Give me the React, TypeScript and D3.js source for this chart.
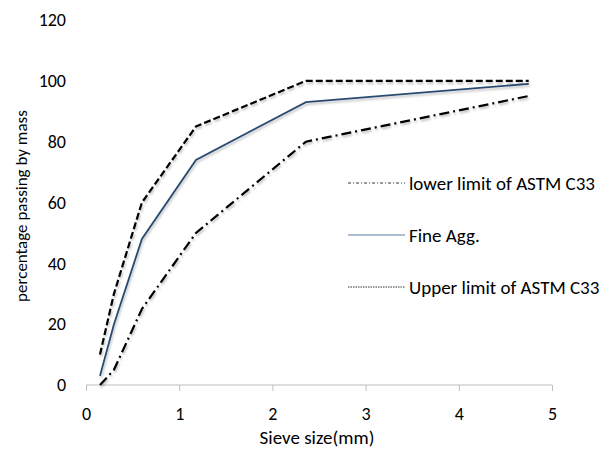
import React, { useEffect, useRef } from 'react';
import * as d3 from 'd3';

const sieveSizes = [0.15, 0.3, 0.6, 1.18, 2.36, 4.75];
const lowerLimit = [0, 5, 25, 50, 80, 95];
const fineAgg = [3, 20, 48, 74, 93, 99];
const upperLimit = [10, 30, 60, 85, 100, 100];
const xTicks = [0, 1, 2, 3, 4, 5];
const yTicks = [0, 20, 40, 60, 80, 100, 120];

const series = [
  { name: 'lower limit of ASTM C33', values: lowerLimit, color: '#000', dash: '10,4,2,4', legendDash: '3,2,1,2' },
  { name: 'Fine Agg.', values: fineAgg, color: '#2a4a72', dash: null, legendDash: null },
  { name: 'Upper limit of ASTM C33', values: upperLimit, color: '#000', dash: '7,3', legendDash: '1.5,1' },
];

const W = 599;
const H = 453;
const margin = { top: 20, right: 47, bottom: 68, left: 86 };

export default function App() {
  const ref = useRef<SVGSVGElement>(null);

  useEffect(() => {
    if (!ref.current) return;
    const root = d3.select(ref.current);
    root.selectAll('*').remove();

    const innerW = W - margin.left - margin.right;
    const innerH = H - margin.top - margin.bottom;
    const font = "Calibri, Carlito, Lato, sans-serif";

    const defs = root.append('defs');
    const f = defs.append('filter').attr('id', 'shadow').attr('x', '-10%').attr('y', '-10%').attr('width', '130%').attr('height', '130%');
    f.append('feDropShadow').attr('dx', 1).attr('dy', 2).attr('stdDeviation', 1).attr('flood-color', '#000').attr('flood-opacity', 0.25);

    const g = root.append('g').attr('transform', `translate(${margin.left},${margin.top})`);

    const x = d3.scaleLinear().domain([0, 5]).range([0, innerW]);
    const y = d3.scaleLinear().domain([0, 120]).range([innerH, 0]);

    // x axis
    const xa = g.append('g').attr('transform', `translate(0,${innerH})`)
      .call(d3.axisBottom(x).tickValues(xTicks).tickSize(6).tickPadding(16).tickFormat(d3.format('d')));
    xa.select('.domain').attr('stroke', '#bfbfbf').attr('d', `M0,0H${innerW}`);
    xa.selectAll('.tick line').attr('stroke', '#bfbfbf');
    xa.selectAll('.tick text').attr('font-family', font).attr('font-size', 18).attr('fill', '#000');

    // y axis (labels only)
    const ya = g.append('g')
      .call(d3.axisLeft(y).tickValues(yTicks).tickSize(0).tickPadding(20).tickFormat(d3.format('d')));
    ya.select('.domain').remove();
    ya.selectAll('.tick text').attr('font-family', font).attr('font-size', 18).attr('fill', '#000');

    const line = d3.line<number>()
      .x((_, i) => x(sieveSizes[i]))
      .y((d) => y(d));

    series.forEach((s) => {
      g.append('path')
        .datum(s.values)
        .attr('d', line)
        .attr('fill', 'none')
        .attr('stroke', s.color)
        .attr('stroke-width', s.dash ? 2.2 : 1.8)
        .attr('stroke-dasharray', s.dash ?? null)
        .attr('filter', 'url(#shadow)');
    });

    // legend
    const leg = root.append('g').attr('transform', 'translate(348,183)');
    series.forEach((s, i) => {
      const row = leg.append('g').attr('transform', `translate(0,${i * 52})`);
      row.append('line')
        .attr('x1', 0).attr('x2', 57).attr('y1', 0).attr('y2', 0)
        .attr('stroke', s.dash ? '#333' : '#5c7ba3')
        .attr('stroke-width', 1)
        .attr('stroke-dasharray', s.legendDash ?? null);
      row.append('text')
        .attr('x', 61).attr('y', 0).attr('dy', '0.35em')
        .attr('font-family', font).attr('font-size', 19).attr('fill', '#000')
        .text(s.name);
    });

    // axis titles
    root.append('text')
      .attr('transform', `translate(21,206) rotate(-90)`)
      .attr('text-anchor', 'middle').attr('dy', '0.35em')
      .attr('font-family', font).attr('font-size', 17).attr('fill', '#000')
      .text('percentage passing by mass');
    root.append('text')
      .attr('x', 317).attr('y', 437).attr('text-anchor', 'middle').attr('dy', '0.35em')
      .attr('font-family', font).attr('font-size', 19).attr('fill', '#000')
      .text('Sieve size(mm)');
  }, []);

  return (
    <div style={{ position: 'absolute', left: 0, top: 0 }}>
      <svg ref={ref} width={W} height={H} style={{ display: 'block', background: '#fff' }} />
    </div>
  );
}
